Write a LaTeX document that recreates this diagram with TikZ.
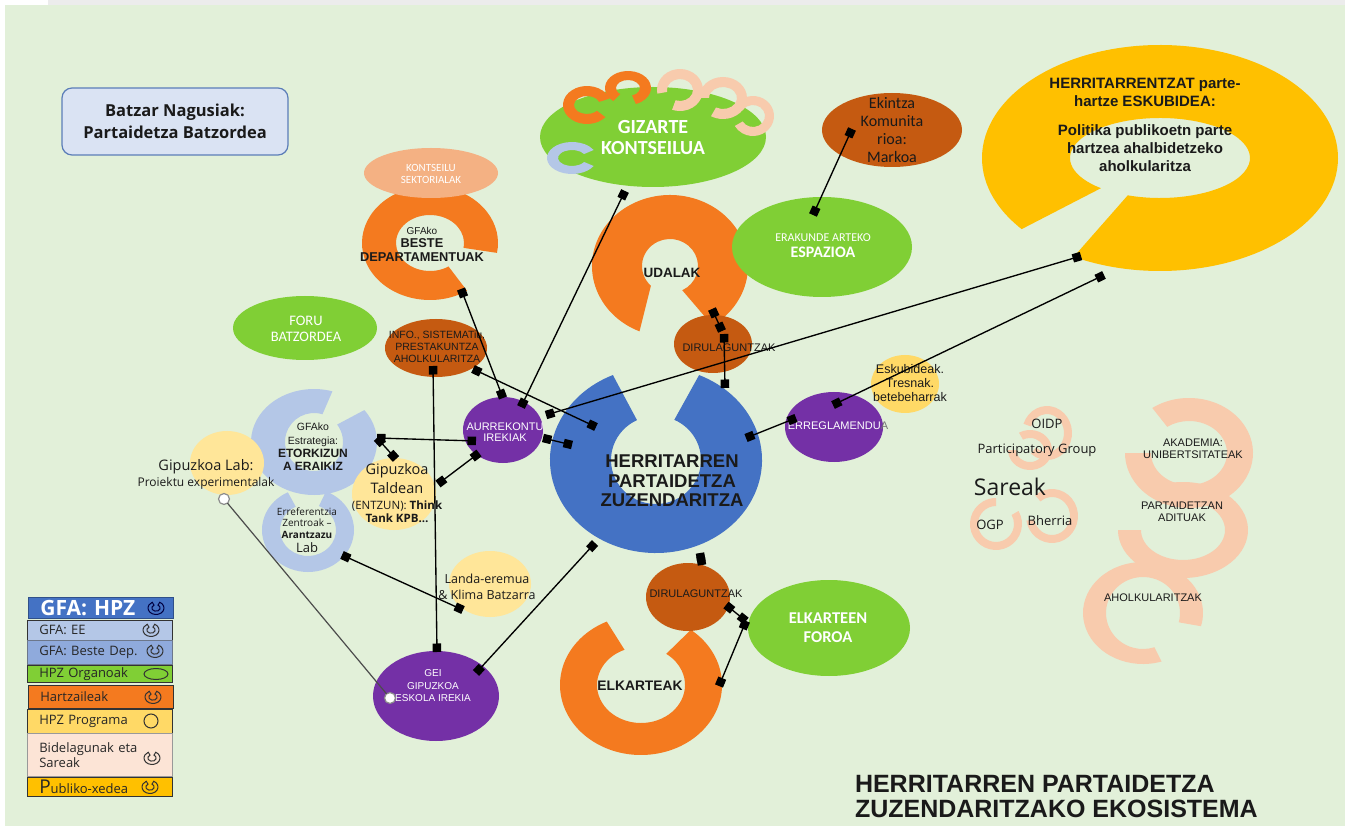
\documentclass[tikz,border=0pt]{standalone}
\usepackage{fontspec}
\setmainfont{Liberation Sans}
\newfontfamily\segf{Open Sans}
\newfontfamily\calf{Carlito}
\usetikzlibrary{arrows.meta,shapes.geometric}
\newcommand{\fsz}[2]{\fontsize{#1}{#2}\selectfont}
\newcommand{\mkring}[9]{\fill[#1] ([shift={(#2,#3)}]#8:#4 and #5) arc[start angle=#8,end angle=#9,x radius=#4,y radius=#5] -- ([shift={(#2,#3)}]#9:#6 and #7) arc[start angle=#9,end angle=#8,x radius=#6,y radius=#7] -- cycle;}
\newcommand{\lgicon}[4]{\draw[#4,fill=#3,line width=1pt] ([shift={(#1,#2)}]-62:8 and 6.5) arc[start angle=-62,end angle=242,x radius=8,y radius=6.5] -- ([shift={(#1,#2)}]242:4.2 and 3.2) arc[start angle=242,end angle=-62,x radius=4.2,y radius=3.2] -- cycle;}
\definecolor{bgG}{HTML}{E2F0D9}
\definecolor{topG}{HTML}{ECECEC}
\definecolor{grn}{HTML}{80CF35}
\definecolor{org}{HTML}{F47A1F}
\definecolor{dorg}{HTML}{C55A11}
\definecolor{purp}{HTML}{7430A6}
\definecolor{hblue}{HTML}{4472C4}
\definecolor{lblue}{HTML}{B4C7E7}
\definecolor{mblue}{HTML}{8FAADC}
\definecolor{lyel}{HTML}{FFE699}
\definecolor{yel}{HTML}{FFD966}
\definecolor{gold}{HTML}{FFC000}
\definecolor{peach}{HTML}{F8CBAD}
\definecolor{lorg}{HTML}{F4B183}
\definecolor{vpeach}{HTML}{FCE4D6}
\definecolor{boxb}{HTML}{DAE3F3}
\definecolor{boxbd}{HTML}{5B7DB8}
\definecolor{ink}{HTML}{1A1A1A}
\begin{document}
\begin{tikzpicture}[x=1pt,y=-1pt,
  txt/.style={align=center,inner sep=0pt,outer sep=0pt,text=ink},
  ell/.style={ellipse,inner sep=0pt,outer sep=0pt,draw=none},
  conn/.style={line width=1.35pt,black,{Square[length=8.5pt,width=8.5pt]}-{Square[length=8.5pt,width=8.5pt]}},
  wdot/.style={circle,fill=white,draw=black!45,line width=1.2pt,minimum size=11pt,inner sep=0pt,outer sep=0pt},
  oconn/.style={line width=1.2pt,black!70},
  lgrow/.style={anchor=north west,rectangle,inner xsep=12pt,inner ysep=0pt,text width=121pt,align=left,draw=black!80,line width=0.6pt,font=\segf\fsz{13}{14},text=black!85}]
\useasboundingbox (0,0) rectangle (1345,826);
% background
\fill[white] (0,0) rectangle (1345,826);
\fill[topG] (48,0) rectangle (1345,5);
\fill[bgG] (5,5) rectangle (1345,826);

% Batzar box
\node[rectangle,rounded corners=10pt,fill=boxb,draw=boxbd,line width=1.2pt,minimum width=226pt,minimum height=67pt,align=center,text=ink,font=\segf\bfseries\fsz{16.5}{22}] (batzar) at (175,121.5) {Batzar Nagusiak:\\Partaidetza Batzordea};

% Beste departamentuak ring + kontseilu
\mkring{org}{430}{243}{68}{57}{34}{28}{57}{370}
\node[ell,fill=lorg,minimum width=134pt,minimum height=50pt] (kont) at (431,173) {};
\node[ell,fill=grn,minimum width=144pt,minimum height=64pt] (foru) at (305,328) {};
\node[ell,fill=dorg,minimum width=102pt,minimum height=58pt] (info) at (436,348) {};

% Gizarte kontseilua
\node[ell,fill=grn,minimum width=226pt,minimum height=100pt] (gizarte) at (653,137) {};
\mkring{org}{587}{105}{24}{19}{13}{9}{40}{340}
\mkring{org}{628}{88}{23}{17}{12}{8}{130}{430}
\mkring{peach}{680}{90}{23}{21}{13}{11}{170}{470}
\mkring{peach}{723}{98}{24}{21}{14}{11}{180}{480}
\mkring{peach}{753}{116}{21}{20}{12}{11}{210}{510}
\mkring{lblue}{572}{158}{25}{16}{14}{8}{30}{330}

% Ekintza
\node[ell,fill=dorg,minimum width=140pt,minimum height=74pt] (ekintza) at (892,130) {};

% Udalak ring
\fill[org] ([shift={(670,266)}]113:78 and 71) arc[start angle=113,end angle=417,x radius=78,y radius=71] -- ([shift={(670,266)}]424:28 and 27) arc[start angle=424,end angle=133,x radius=28,y radius=27] -- cycle;
\node[ell,fill=grn,minimum width=180pt,minimum height=100pt] (espazio) at (822,247) {};

% Herritarrentzat ring
\fill[gold] ([shift={(1160,158)}]141:178 and 113) arc[start angle=141,end angle=479,x radius=178,y radius=113] -- ([shift={(1160,158)}]471:90 and 40) arc[start angle=471,end angle=131,x radius=90,y radius=40] -- cycle;

% HPZ ring
\fill[hblue] ([shift={(656,460)}]-66:106 and 93) arc[start angle=-66,end angle=246,x radius=106,y radius=93] -- ([shift={(656,460)}]245:45 and 44) arc[start angle=245,end angle=-66,x radius=45,y radius=44] -- cycle;
\node[ell,fill=dorg,minimum width=78pt,minimum height=58pt] (dirT) at (713,344) {};

% Eskubideak, Erreglamendua
\node[ell,fill=yel,minimum width=68pt,minimum height=58pt] (eskub) at (905,384) {};
\node[ell,fill=purp,minimum width=98pt,minimum height=70pt] (erreg) at (834,427) {};

% left cluster
\mkring{lblue}{308}{530}{46}{42}{28}{26}{-67}{244}
\mkring{lblue}{314}{442}{63}{53}{29}{29}{-37}{287}
\node[ell,fill=lyel,minimum width=74pt,minimum height=64pt] (giplab) at (227,463) {};
\node[ell,fill=lyel,minimum width=84pt,minimum height=72pt] (taldean) at (394,494) {};
\node[ell,fill=purp,minimum width=80pt,minimum height=66pt] (aurre) at (503,430) {};
\node[ell,fill=lyel,minimum width=82pt,minimum height=66pt] (landa) at (490,584) {};
\node[ell,fill=purp,minimum width=126pt,minimum height=90pt] (gei) at (436,696) {};

% Elkarteak
\fill[org] ([shift={(641,685)}]-52:81 and 70) arc[start angle=-52,end angle=245,x radius=81,y radius=70] -- ([shift={(641,685)}]248:44 and 38) arc[start angle=248,end angle=-55,x radius=44,y radius=38] -- cycle;
\node[ell,fill=dorg,minimum width=84pt,minimum height=68pt] (dirB) at (688,597) {};
\node[ell,fill=grn,minimum width=162pt,minimum height=96pt] (foroa) at (829,628) {};

% Sareak rings
\mkring{peach}{1047}{433}{25}{27}{17}{19}{200}{490}
\mkring{peach}{1030}{450}{22}{20}{14}{12}{240}{540}
\mkring{peach}{996}{524}{26}{26}{18}{18}{-30}{270}
\mkring{peach}{1052}{516}{26}{27}{18}{19}{230}{530}
\mkring{peach}{1143}{613}{60}{51}{37}{36}{72}{375}
\mkring{peach}{1183}{530}{65}{48}{42}{30}{-120}{180}
\mkring{peach}{1189}{453}{64}{55}{38}{32}{-125}{180}

% ---------- texts ----------
\node[txt,text=white,font=\calf\fsz{11}{12.5}] (kontT) at (431,174) {KONTSEILU\\SEKTORIALAK};
\node[txt,font=\bfseries\fsz{12.8}{13.5}] (besteT) at (422,244) {{\mdseries\fsz{10}{13.5}GFAko}\\BESTE\\DEPARTAMENTUAK};
\node[txt,text=white,font=\calf\fsz{14.5}{16}] (foruT) at (306,329) {FORU\\BATZORDEA};
\node[txt,font=\fsz{10.5}{12}] (infoT) at (437,347) {INFO., SISTEMATiu,\\PRESTAKUNTZA\\AHOLKULARITZA};
\node[txt,text=white,font=\calf\bfseries\fsz{20}{21}] (gizT) at (653,138) {GIZARTE\\KONTSEILUA};
\node[txt,font=\calf\fsz{16}{18}] (ekT) at (892,130) {Ekintza\\Komunita\\rioa:\\Markoa};
\node[txt,text=white,font=\calf\fsz{12}{16}] (espT) at (823,246) {ERAKUNDE ARTEKO\\{\bfseries\fsz{16}{16}ESPAZIOA}};
\node[txt,font=\bfseries\fsz{13.5}{15}] (udT) at (672,273) {UDALAK};
\node[txt,font=\fsz{11}{12}] (dirTT) at (729,348) {DIRULAGUNTZAK};
\node[txt,font=\bfseries\fsz{18.5}{19.5}] (hpzT) at (672,481) {HERRITARREN\\PARTAIDETZA\\ZUZENDARITZA};
\node[txt,text=white,font=\fsz{11}{12}] (errT) at (838,426) {ERREGLAMENDU\textcolor{black!55}{A}};
\node[txt,font=\fsz{12.5}{14}] (eskT) at (910,383) {Eskubideak.\\Tresnak.\\betebeharrak};
\node[txt,font=\bfseries\fsz{15}{18}] (herT) at (1145,125) {HERRITARRENTZAT parte-\\hartze ESKUBIDEA:\\[11pt]Politika publikoetn parte\\hartzea ahalbidetzeko\\aholkularitza};
\node[txt,font=\segf\fsz{12}{16}] (glT) at (206,474) {{\fsz{14.5}{16}Gipuzkoa Lab:}\\Proiektu experimentalak};
\node[txt,font=\fsz{10.5}{13.3}] (estT) at (313,447) {GFAko\\Estrategia:\\{\bfseries\fsz{12}{13.3}ETORKIZUN}\\{\bfseries\fsz{12}{13.3}A ERAIKIZ}};
\node[txt,font=\segf\fsz{10}{11.5}] (errefT) at (307,530) {Erreferentzia\\Zentroak –\\\textbf{Arantzazu}\\[3pt]{\fsz{13}{14}Lab}};
\node[txt,font=\segf\fsz{11.5}{13}] (talT) at (397,493) {{\fsz{14.5}{16}Gipuzkoa}\\[3pt]{\fsz{14.5}{16}Taldean}\\[3pt](ENTZUN): \textbf{Think}\\\textbf{Tank KPB…}};
\node[txt,text=white,font=\fsz{11}{11.5}] (aurT) at (505,432) {AURREKONTU\\IREKIAK};
\node[txt,font=\segf\fsz{12.5}{16}] (landaT) at (487,587) {Landa-eremua\\\& Klima Batzarra};
\node[txt,text=white,font=\fsz{10}{12.5}] (geiT) at (433,686) {GEI\\GIPUZKOA\\ESKOLA IREKIA};
\node[txt,font=\fsz{11}{12}] (dirBT) at (696,594) {DIRULAGUNTZAK};
\node[txt,text=white,font=\calf\bfseries\fsz{16.5}{19}] (foroaT) at (828,628) {ELKARTEEN\\FOROA};
\node[txt,font=\bfseries\fsz{13.8}{15}] (elkT) at (640,686) {ELKARTEAK};
% Sareak
\node[txt,font=\segf\fsz{13}{14}] (oidpT) at (1047,424) {OIDP};
\node[txt,font=\segf\fsz{13}{14}] (partT) at (1037,450) {Participatory Group};
\node[txt,font=\segf\fsz{23}{24}] (sarT) at (1010,487) {Sareak};
\node[txt,font=\segf\fsz{13}{14}] (ogpT) at (990,525) {OGP};
\node[txt,font=\segf\fsz{13}{14}] (bhT) at (1050,521) {Bherria};
\node[txt,font=\fsz{11}{12}] (akaT) at (1193,449) {AKADEMIA:\\UNIBERTSITATEAK};
\node[txt,font=\fsz{11}{12}] (adiT) at (1182,512) {PARTAIDETZAN\\ADITUAK};
\node[txt,font=\fsz{11}{12}] (ahoT) at (1153,598) {AHOLKULARITZAK};
% title
\node[txt,anchor=west,align=left,font=\bfseries\fsz{25}{25}] (title) at (855,797) {HERRITARREN PARTAIDETZA\\ZUZENDARITZAKO EKOSISTEMA};

% ---------- legend ----------
\node[lgrow,fill=hblue,draw=hblue!70!black,minimum height=21pt,text=white,font=\segf\bfseries\fsz{21}{21}] (lg1) at (28,597) {GFA: HPZ};
\node[lgrow,fill=lblue,minimum height=20pt] (lg2) at (27,620) {GFA: EE};
\node[lgrow,fill=mblue,draw=lblue!60!black,minimum height=24pt] (lg3) at (27,640) {GFA: Beste Dep.};
\node[lgrow,fill=grn,minimum height=17pt] (lg4) at (27,665) {HPZ Organoak};
\node[lgrow,fill=org,minimum height=23pt] (lg5) at (28,685) {Hartzaileak};
\node[lgrow,fill=yel,minimum height=24pt] (lg6) at (27,709) {HPZ Programa};
\node[lgrow,fill=vpeach,draw=black!40,minimum height=43pt,font=\segf\fsz{13}{15}] (lg7) at (27,733) {Bidelagunak eta\\Sareak};
\node[lgrow,fill=gold,minimum height=19pt] (lg8) at (27,777) {{\fsz{19}{19}P}ubliko-xedea};
\lgicon{156}{608}{hblue}{blue!25!black}
\lgicon{151}{630}{lblue}{black!80}
\lgicon{155}{651}{mblue}{black!80}
\draw[black!80,line width=1pt] (156,674) ellipse[x radius=12,y radius=5.5];
\lgicon{153}{697}{org}{black!80}
\draw[black!80,line width=1pt] (151,721) circle[radius=7];
\lgicon{152}{758}{vpeach}{black!80}
\lgicon{150}{787}{gold}{black!80}

% ---------- connectors ----------
\coordinate (bdA) at (461,289);
\coordinate (akA) at (503,398);
\coordinate (gzA) at (625,191);
\coordinate (akB) at (521,407);
\coordinate (inA) at (473,369);
\coordinate (hpA) at (596,427);
\coordinate (inB) at (433,366);
\coordinate (geA) at (437,652);
\coordinate (akC) at (546,415);
\coordinate (hrA) at (1081,256);
\coordinate (akD) at (543,438);
\coordinate (hpB) at (572,445);
\coordinate (esA) at (377,438);
\coordinate (akE) at (476,441);
\coordinate (tlA) at (396,459);
\coordinate (tlB) at (438,484);
\coordinate (akF) at (479,453);
\coordinate (erA) at (342,555);
\coordinate (laA) at (463,610);
\coordinate (geC) at (476,673);
\coordinate (hpC) at (595,543);
\coordinate (udA) at (712,309);
\coordinate (dtA) at (722,331);
\coordinate (dtB) at (724,334);
\coordinate (hpD) at (725,388);
\coordinate (hpE) at (746,438);
\coordinate (rgA) at (796,418);
\coordinate (rgB) at (833,405);
\coordinate (hrB) at (1104,275);
\coordinate (ekA) at (852,129);
\coordinate (eaA) at (813,215);
\coordinate (hpF) at (700,553);
\coordinate (dbA) at (702,565);
\coordinate (dbB) at (726,605);
\coordinate (efA) at (746,621);
\coordinate (ekB) at (719,686);
\draw[conn] (bdA) -- (akA);
\draw[conn] (gzA) -- (akB);
\draw[conn] (inA) -- (hpA);
\draw[conn] (inB) -- (geA);
\draw[conn] (akC) -- (hrA);
\draw[conn] (akD) -- (hpB);
\draw[conn] (esA) -- (akE);
\draw[conn] (esA) -- (tlA);
\draw[conn] (tlB) -- (akF);
\draw[conn] (erA) -- (laA);
\draw[conn] (geC) -- (hpC);
\draw[conn] (udA) -- (dtA);
\draw[conn] (dtB) -- (hpD);
\draw[conn] (hpE) -- (rgA);
\draw[conn] (rgB) -- (hrB);
\draw[conn] (ekA) -- (eaA);
\draw[conn] (hpF) -- (dbA);
\draw[conn] (dbB) -- (efA);
\draw[conn] (efA) -- (ekB);
\node[wdot] (glA) at (224,499) {};
\node[wdot] (geB) at (390,698) {};
\draw[oconn] (glA) -- (geB);
\end{tikzpicture}
\end{document}
